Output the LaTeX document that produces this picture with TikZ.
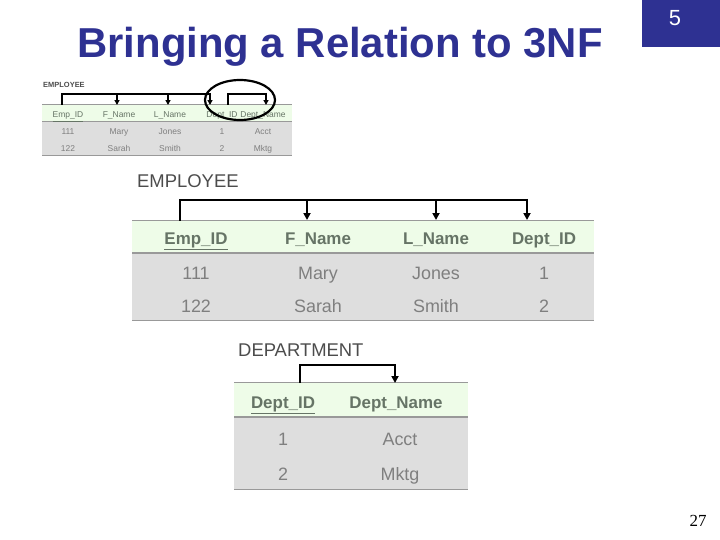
\documentclass[tikz,border=0pt]{standalone}
\usepackage{fontspec}
\setmainfont{Liberation Sans}
\newfontfamily\seriffont{Liberation Serif}
\usetikzlibrary{arrows.meta}
\definecolor{ttl}{HTML}{2E3192}
\definecolor{hdr}{HTML}{EEFCE8}
\definecolor{rowbg}{HTML}{DEDEDE}
\definecolor{htxt}{HTML}{667466}
\definecolor{rtxt}{HTML}{7F7F7F}
\definecolor{rule}{HTML}{999999}
\begin{document}
\begin{tikzpicture}[x=1bp,y=-1bp,
  every node/.style={text height=0.72em,text depth=0.2em},
  big/.style={yshift=-4bp},
  hb/.style={font=\bfseries\fontsize{#1}{#1}\selectfont,text=htxt,inner sep=0pt,big},
  rb/.style={font=\fontsize{#1}{#1}\selectfont,text=rtxt,inner sep=0pt,big},
  sm/.style={font=\fontsize{8.5}{8.5}\selectfont,text=rtxt,inner sep=0pt,yshift=-1bp},
  lb/.style={font=\fontsize{#1}{#1}\selectfont,text=black!70,inner sep=0pt,anchor=west,big},
  br/.style={line width=#1,-{Triangle[length=7pt,width=7pt]}},
  brs/.style={line width=#1,-{Triangle[length=5pt,width=5pt]}},
  brn/.style={line width=#1}]
\useasboundingbox (0,0) rectangle (720,540);
% title
\node[font=\bfseries\fontsize{42}{42}\selectfont,text=ttl,yshift=-4bp] (title) at (340,51) {Bringing a Relation to 3NF};
\fill[ttl] (642,0) rectangle (720,47);
\node[text=white,font=\fontsize{22}{22}\selectfont,yshift=-2bp] (num) at (675,21) {5};
\node[font=\seriffont\fontsize{17}{17}\selectfont,yshift=-2bp] (pg) at (698,522) {27};
% small table
\node[sm,text=black!70,anchor=west,font=\bfseries\fontsize{7.5}{7.5}\selectfont] (se) at (43,84) {EMPLOYEE};
\fill[hdr] (42,104) rectangle (292,122);
\fill[rowbg] (42,122) rectangle (292,155);
\draw[rule,line width=0.8pt] (42,104)--(292,104);
\draw[rule,line width=1pt] (42,122)--(292,122);
\draw[rule,line width=0.8pt] (42,155.5)--(292,155.5);
\foreach \n/\x/\t in {s1/68/{\underline{Emp\_ID}},s2/119/F\_Name,s3/170/L\_Name,s4/222/Dept\_ID,s5/263/Dept\_Name}
  \node[sm,text=htxt] (\n) at (\x,114) {\t};
\foreach \x/\a/\b in {68/111/122,119/Mary/Sarah,170/Jones/Smith,222/1/2,263/Acct/Mktg}{
  \node[sm] at (\x,131) {\a}; \node[sm] at (\x,148) {\b};}
\draw[brn=2pt] (62,105)--(62,94)--(210,94);
\draw[brs=2pt] (117,94)--(117,105);
\draw[brs=2pt] (168,94)--(168,105);
\draw[brs=2pt] (210,93)--(210,105);
\draw[line width=2pt] (228,105)--(228,94)--(266,94);
\draw[brs=2pt] (266,93)--(266,105);
\draw[line width=2.2pt] (240,100) ellipse (35 and 20);
% big table
\node[lb=18.5] (be) at (137,181) {EMPLOYEE};
\fill[hdr] (132,220) rectangle (594,253);
\fill[rowbg] (132,253) rectangle (594,320);
\draw[rule,line width=1pt] (132,220)--(594,220);
\draw[rule,line width=2pt] (132,253)--(594,253);
\draw[rule,line width=1pt] (132,320)--(594,320);
\node[hb=17] (b1) at (196,238) {\underline{Emp\_ID}};
\node[hb=17] (b2) at (318,238) {F\_Name};
\node[hb=17] (b3) at (436,238) {L\_Name};
\node[hb=17] (b4) at (544,238) {Dept\_ID};
\foreach \x/\a/\b in {196/111/122,318/Mary/Sarah,436/Jones/Smith,544/1/2}{
  \node[rb=18] at (\x,273) {\a}; \node[rb=18] at (\x,306) {\b};}
\draw[brn=2.2pt] (180,221)--(180,200)--(527,200);
\draw[br=2.2pt] (307,200)--(307,220);
\draw[br=2.2pt] (436,200)--(436,220);
\draw[br=2.2pt] (527,199)--(527,220);
% department
\node[lb=18.5] (de) at (238,350) {DEPARTMENT};
\fill[hdr] (234,382) rectangle (468,417);
\fill[rowbg] (234,417) rectangle (468,489);
\draw[rule,line width=1pt] (234,382)--(468,382);
\draw[rule,line width=2pt] (234,417)--(468,417);
\draw[rule,line width=1pt] (234,489)--(468,489);
\node[hb=17] (d1) at (283,402) {\underline{Dept\_ID}};
\node[hb=17] (d2) at (396,402) {Dept\_Name};
\node[rb=18] at (283,439) {1}; \node[rb=18] at (283,474) {2};
\node[rb=18] at (400,439) {Acct}; \node[rb=18] at (400,474) {Mktg};
\draw[brn=2.2pt] (300,383)--(300,365)--(395,365);
\draw[br=2.2pt] (395,364)--(395,383);
\end{tikzpicture}
\end{document}
